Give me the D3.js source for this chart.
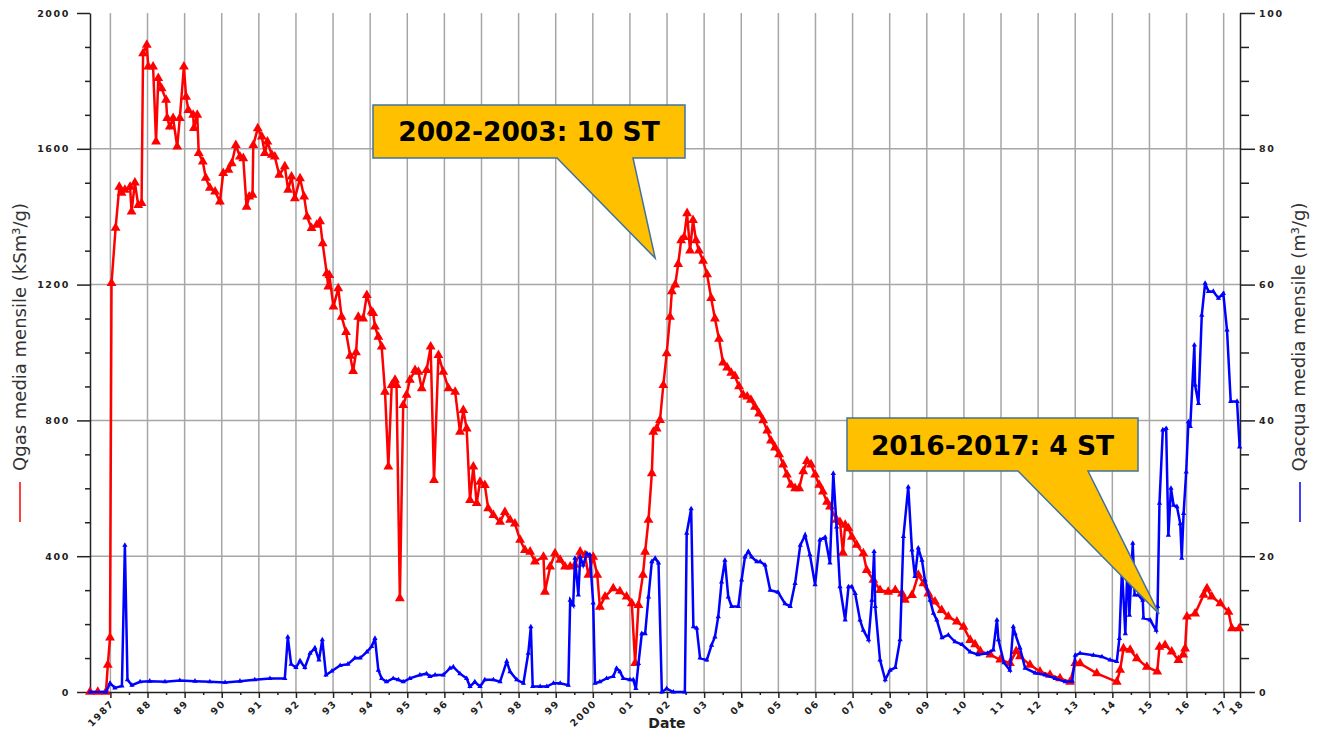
<!DOCTYPE html>
<html>
<head>
<meta charset="utf-8">
<script src="https://cdn.jsdelivr.net/npm/d3@7"></script>
<style>
body {margin: 0; background: #fff;}
.axis text {font-family: "DejaVu Sans", sans-serif; font-weight: bold; font-size: 9.5px; letter-spacing: 1.6px; fill: #222;}
.axis path, .axis line {stroke: #222; stroke-width: 1.5;}
.grid line {stroke: #a6a6a6; stroke-width: 1.5;}
.title {font-family: "DejaVu Sans", sans-serif; font-size: 18px; fill: #333;}
.callout text {font-family: "DejaVu Sans", sans-serif; font-weight: bold; font-size: 26.5px; fill: #000;}
</style>
</head>
<body>
<svg id="chart"></svg>
<script>
//data: [decimal year, value]
var qgas = [
[1986.45,0],[1986.66,0],[1986.88,0],[1986.93,80],[1986.99,160],[1987.03,1204],[1987.14,1367],[1987.24,1488],[1987.30,1470],[1987.39,1479],[1987.53,1488],[1987.57,1415],[1987.66,1500],[1987.75,1434],[1987.84,1440],[1987.88,1881],[1987.98,1906],[1988.02,1842],[1988.15,1842],[1988.23,1621],[1988.29,1808],[1988.38,1778],[1988.50,1744],[1988.53,1690],[1988.60,1665],[1988.69,1690],[1988.80,1606],[1988.87,1690],[1988.98,1842],[1989.04,1753],[1989.10,1714],[1989.23,1700],[1989.25,1661],[1989.34,1700],[1989.38,1587],[1989.49,1562],[1989.57,1514],[1989.68,1485],[1989.82,1474],[1989.95,1444],
[1990.04,1528],[1990.18,1538],[1990.27,1557],[1990.38,1611],[1990.49,1577],[1990.58,1572],[1990.67,1429],[1990.74,1459],[1990.83,1464],[1990.85,1611],[1990.97,1660],[1991.08,1636],[1991.16,1587],[1991.23,1621],[1991.35,1582],[1991.43,1577],[1991.55,1523],[1991.70,1548],[1991.79,1479],[1991.88,1518],[1991.97,1454],[1992.11,1513],[1992.22,1459],[1992.30,1400],[1992.42,1366],[1992.56,1376],[1992.65,1386],[1992.72,1321],[1992.83,1233],[1992.87,1194],[1992.90,1228],[1993.01,1135],[1993.14,1189],[1993.23,1105],[1993.35,1060],[1993.46,990],[1993.54,945],[1993.62,1000],[1993.68,1105],[1993.81,1100],[1993.91,1169],
[1994.04,1120],[1994.08,1116],[1994.13,1076],[1994.22,1046],[1994.31,1017],[1994.40,884],[1994.49,664],[1994.58,904],[1994.67,919],[1994.71,904],[1994.80,276],[1994.89,845],[1994.98,875],[1995.07,919],[1995.21,948],[1995.30,943],[1995.39,894],[1995.52,948],[1995.63,1017],[1995.72,624],[1995.84,992],[1995.97,943],[1996.11,894],[1996.29,884],[1996.42,766],[1996.51,830],[1996.60,776],[1996.69,565],[1996.78,664],[1996.87,556],[1996.96,619],[1997.09,609],[1997.18,541],[1997.32,521],[1997.50,501],[1997.63,530],[1997.77,507],[1997.90,496],
[1998.04,448],[1998.17,418],[1998.31,413],[1998.44,384],[1998.67,398],[1998.71,295],[1998.85,369],[1998.98,408],[1999.12,389],[1999.25,369],[1999.39,369],[1999.52,374],[1999.66,413],[1999.79,403],[1999.88,345],[2000.01,398],[2000.12,345],[2000.19,251],[2000.33,281],[2000.55,305],[2000.73,296],[2000.91,281],[2001.05,261],[2001.14,85],[2001.23,256],[2001.35,345],[2001.41,413],[2001.50,507],[2001.59,644],[2001.63,766],[2001.72,776],[2001.81,801],[2001.90,904],[2001.99,997],[2002.08,1105],
[2002.13,1180],[2002.22,1200],[2002.30,1260],[2002.38,1330],[2002.46,1340],[2002.54,1410],[2002.62,1300],[2002.70,1390],[2002.78,1330],[2002.86,1300],[2002.97,1270],[2003.08,1230],[2003.19,1160],[2003.29,1100],[2003.40,1040],[2003.51,970],[2003.62,955],[2003.73,940],[2003.83,930],[2003.94,900],[2004.05,875],[2004.16,870],[2004.26,860],[2004.37,840],[2004.48,820],[2004.59,800],[2004.70,770],[2004.80,740],[2004.91,720],[2005.02,700],[2005.13,670],[2005.23,640],[2005.34,610],[2005.45,600],[2005.56,600],[2005.67,650],[2005.77,680],[2005.88,670],[2005.99,640],
[2006.10,610],[2006.20,590],[2006.31,560],[2006.39,546],[2006.57,507],[2006.66,500],[2006.74,410],[2006.80,492],[2006.89,482],[2006.98,457],[2007.11,433],[2007.29,408],[2007.38,359],[2007.56,330],[2007.74,300],[2007.96,295],[2008.15,300],[2008.33,290],[2008.41,271],[2008.60,285],[2008.77,345],[2008.91,320],[2009.04,290],[2009.22,266],[2009.40,241],[2009.58,222],[2009.81,207],[2009.99,192],[2010.17,153],[2010.30,140],[2010.44,120],[2010.71,110],[2010.98,95],[2011.24,85],[2011.41,120],[2011.51,105],[2011.78,80],[2012.05,60],[2012.32,50],[2012.59,40],[2012.86,30],
[2013.00,85],[2013.13,84],[2013.58,55],[2014.12,30],[2014.21,65],[2014.30,128],[2014.48,124],[2014.66,99],[2014.93,74],[2015.21,60],[2015.27,133],[2015.42,138],[2015.60,119],[2015.78,94],[2015.91,110],[2015.96,128],[2016.01,222],[2016.23,231],[2016.46,286],[2016.55,305],[2016.68,281],[2016.91,261],[2017.13,236],[2017.22,187],[2017.42,187]
];

var qacqua = [
[1986.45,0],[1986.88,0],[1986.99,1.3],[1987.12,0.6],[1987.31,0.9],[1987.39,21.6],[1987.46,1.8],[1987.58,1.0],[1987.80,1.5],[1988.06,1.6],[1988.47,1.5],[1988.87,1.7],[1989.28,1.6],[1989.68,1.5],[1990.09,1.4],[1990.49,1.6],[1990.89,1.8],[1991.30,2.0],[1991.70,2.0],[1991.78,8.1],[1991.87,4.1],[1992.00,3.6],[1992.11,4.6],[1992.24,3.6],[1992.38,5.7],[1992.51,6.5],[1992.62,4.7],[1992.71,7.7],[1992.81,2.5],[1992.97,3.1],[1993.19,3.9],[1993.40,4.1],[1993.59,5.0],[1993.73,5.0],[1993.91,5.9],
[1994.04,6.7],[1994.13,7.9],[1994.22,3.2],[1994.31,2.0],[1994.44,1.5],[1994.62,2.0],[1994.76,1.8],[1994.89,1.5],[1995.07,2.0],[1995.34,2.5],[1995.52,2.7],[1995.61,2.3],[1995.75,2.5],[1995.97,2.5],[1996.15,3.5],[1996.24,3.7],[1996.42,2.7],[1996.60,2.0],[1996.69,0.8],[1996.82,1.5],[1996.96,0.8],[1997.09,1.8],[1997.32,1.8],[1997.50,1.5],[1997.68,4.5],[1997.77,3.0],[1997.95,1.8],[1998.13,1.3],[1998.26,5.7],[1998.33,9.6],[1998.38,0.8],[1998.58,0.8],[1998.76,0.8],[1998.94,1.3],
[1999.12,1.3],[1999.34,1.0],[1999.39,13.5],[1999.47,12.8],[1999.52,19.7],[1999.61,14.3],[1999.66,19.9],[1999.74,18.7],[1999.84,20.4],[1999.92,20.2],[2000.01,13.1],[2000.06,1.3],[2000.19,1.5],[2000.37,2.0],[2000.55,2.3],[2000.64,3.5],[2000.73,3.0],[2000.82,2.0],[2001.00,1.8],[2001.09,1.8],[2001.16,0.5],[2001.23,4.2],[2001.32,8.6],[2001.41,8.6],[2001.50,14.0],[2001.59,19.2],[2001.68,19.7],[2001.77,19.0],[2001.86,0],[2001.99,0.5],[2002.17,0],[2002.48,0],
[2002.53,23.4],[2002.65,27.0],[2002.71,9.6],[2002.80,9.4],[2002.89,5.0],[2003.07,4.7],[2003.20,6.9],[2003.29,8.1],[2003.38,11.1],[2003.47,16.2],[2003.56,19.4],[2003.65,14.0],[2003.74,12.6],[2003.92,12.6],[2004.01,16.5],[2004.10,19.9],[2004.19,20.7],[2004.28,19.9],[2004.42,19.2],[2004.51,19.2],[2004.64,18.7],[2004.78,15.0],[2004.99,14.7],[2005.18,13.0],[2005.32,12.6],[2005.45,16.0],[2005.59,21.6],[2005.72,23.1],[2005.85,20.2],[2005.99,15.8],
[2006.12,22.4],[2006.26,22.8],[2006.39,19.0],[2006.48,32.2],[2006.57,24.3],[2006.66,15.5],[2006.80,10.6],[2006.89,15.5],[2006.98,15.5],[2007.07,14.5],[2007.20,10.6],[2007.29,9.1],[2007.43,7.7],[2007.52,13.5],[2007.58,20.7],[2007.61,12.6],[2007.74,4.7],[2007.88,1.8],[2008.01,3.2],[2008.15,3.6],[2008.28,7.7],[2008.37,22.9],[2008.50,30.2],[2008.60,20.9],[2008.68,17.0],[2008.77,21.2],[2008.87,19.4],[2008.95,16.5],[2009.09,13.5],[2009.18,11.6],[2009.27,10.6],[2009.41,8.0],[2009.58,8.4],[2009.76,7.4],[2009.95,7.0],
[2010.17,5.9],[2010.38,5.5],[2010.63,5.7],[2010.79,6.2],[2010.89,10.6],[2010.93,7.7],[2011.08,4.3],[2011.24,3.2],[2011.33,9.6],[2011.38,8.6],[2011.51,6.5],[2011.65,3.5],[2011.92,2.8],[2012.19,2.5],[2012.46,2.0],[2012.73,1.5],[2012.92,1.6],[2013.00,5.4],[2013.13,5.7],[2013.49,5.4],[2013.72,5.2],[2013.94,4.7],[2014.12,4.5],[2014.19,7.9],[2014.26,18.2],[2014.35,8.6],[2014.41,19.4],[2014.46,11.3],[2014.55,21.9],[2014.60,14.3],[2014.70,14.3],[2014.82,13.5],[2014.84,10.9],
[2015.02,10.6],[2015.18,9.1],[2015.22,12.6],[2015.27,27.8],[2015.36,38.6],[2015.45,38.8],[2015.51,23.1],[2015.58,30.0],[2015.65,27.5],[2015.74,27.3],[2015.83,24.8],[2015.87,19.7],[2015.92,26.3],[2015.99,32.4],[2016.05,39.8],[2016.10,39.1],[2016.21,51.1],[2016.23,45.2],[2016.32,42.5],[2016.41,55.5],[2016.50,60.2],[2016.59,59.0],[2016.72,59.0],[2016.86,58.0],[2016.99,58.7],[2017.09,53.3],[2017.19,42.8],[2017.36,42.8],[2017.43,36.1]
];

//axes: ticks and labels
var xDomain = [1986.45, 2017.44];
var tickYears = [1987,1988,1989,1990,1991,1992,1993,1994,1995,1996,1997,1998,1999,2000,2001,2002,2003,2004,2005,2006,2007,2008,2009,2010,2011,2012,2013,2014,2015,2016,2017,2017.44];
var xTickLabels = ['1987','88','89','90','91','92','93','94','95','96','97','98','99','2000','01','02','03','04','05','06','07','08','09','10','11','12','13','14','15','16','17','18'];
var leftTicks = [0,400,800,1200,1600,2000];
var rightTicks = [0,20,40,60,80,100];

//annotations: label and where the arrow points (year, Qgas)
var calloutLabels = ['2002-2003: 10 ST', '2016-2017: 4 ST'];
var calloutTips = [[2001.68,1278],[2015.26,230]];

var width = 1325, height = 733;
var plot = {l: 90, r: 1240, t: 13, b: 692};

var svg = d3.select('#chart')
    .attr('width', width)
    .attr('height', height);

var scaleX = d3.scaleLinear().domain(xDomain).range([plot.l, plot.r]);
var scaleYL = d3.scaleLinear().domain([0,2000]).range([plot.b, plot.t]);
var scaleYR = d3.scaleLinear().domain([0,100]).range([plot.b, plot.t]);
var plain = d3.format('d');

//gridlines
var grid = svg.append('g').attr('class','grid');
grid.selectAll('.vgrid')
    .data(tickYears.slice(0, -1))
    .enter().append('line')
    .attr('x1', function(d){return scaleX(d)})
    .attr('x2', function(d){return scaleX(d)})
    .attr('y1', plot.t).attr('y2', plot.b);
grid.selectAll('.hgrid')
    .data(leftTicks.slice(1, -1))
    .enter().append('line')
    .attr('x1', plot.l).attr('x2', plot.r)
    .attr('y1', function(d){return scaleYL(d)})
    .attr('y2', function(d){return scaleYL(d)});

//left axis, major + minor
svg.append('g').attr('class','axis axis-y').attr('transform','translate(' + plot.l + ',0)')
    .call(d3.axisLeft(scaleYL).tickValues(leftTicks).tickFormat(plain).tickSize(13).tickSizeOuter(0).tickPadding(7));
svg.append('g').attr('class','axis minor').attr('transform','translate(' + plot.l + ',0)')
    .call(d3.axisLeft(scaleYL).tickValues(d3.range(0,2001,100).filter(function(v){return v % 400})).tickSize(5).tickFormat(''))
    .select('.domain').remove();

//right axis
svg.append('g').attr('class','axis axis-y2').attr('transform','translate(' + plot.r + ',0)')
    .call(d3.axisRight(scaleYR).tickValues(rightTicks).tickFormat(plain).tickSize(15).tickSizeOuter(0).tickPadding(4));
svg.append('g').attr('class','axis minor').attr('transform','translate(' + plot.r + ',0)')
    .call(d3.axisRight(scaleYR).tickValues(d3.range(0,101,5).filter(function(v){return v % 20})).tickSize(9).tickFormat(''))
    .select('.domain').remove();

//bottom axis, rotated labels
svg.append('g').attr('class','axis axis-x').attr('transform','translate(0,' + plot.b + ')')
    .call(d3.axisBottom(scaleX).tickValues(tickYears).tickSize(6).tickSizeOuter(0)
        .tickFormat(function(d, i){return xTickLabels[i]}));
svg.append('g').attr('class','axis minor').attr('transform','translate(0,' + plot.b + ')')
    .call(d3.axisBottom(scaleX).tickValues(tickYears.slice(0, -2).map(function(v){return v + 0.5})).tickSize(3).tickFormat(''))
    .select('.domain').remove();
svg.select('.axis-x').selectAll('text')
    .attr('x', 0).attr('y', 0).attr('dy', 0)
    .attr('text-anchor', 'end')
    .attr('transform', 'translate(4,12) rotate(-45)');

svg.append('text')
    .attr('x', 667).attr('y', 728)
    .attr('text-anchor', 'middle')
    .style('font-family', '"DejaVu Sans", sans-serif')
    .style('font-weight', 'bold').style('font-size', '14px').style('fill', '#222')
    .text('Date');

//axis titles with legend line
svg.append('text').attr('class','title')
    .attr('transform', 'translate(26,337) rotate(-90)')
    .attr('text-anchor', 'middle')
    .text('Qgas media mensile (kSm\u00B3/g)');
svg.append('line').attr('x1', 20).attr('x2', 20).attr('y1', 482).attr('y2', 522)
    .attr('stroke', '#ff0000').attr('stroke-width', 1.5);
svg.append('text').attr('class','title')
    .attr('transform', 'translate(1305,337) rotate(-90)')
    .attr('text-anchor', 'middle')
    .text('Qacqua media mensile (m\u00B3/g)');
svg.append('line').attr('x1', 1300).attr('x2', 1300).attr('y1', 482).attr('y2', 522)
    .attr('stroke', '#0000ff').attr('stroke-width', 1.5);

//series
var lineGas = d3.line()
    .x(function(d){return scaleX(d[0])})
    .y(function(d){return scaleYL(d[1])});
var lineWater = d3.line()
    .x(function(d){return scaleX(d[0])})
    .y(function(d){return scaleYR(d[1])});

svg.append('path').datum(qgas)
    .attr('d', lineGas)
    .attr('fill', 'none').attr('stroke', '#ff0000').attr('stroke-width', 2.5);
svg.append('g').selectAll('path')
    .data(qgas).enter().append('path')
    .attr('d', d3.symbol().type(d3.symbolTriangle).size(42))
    .attr('transform', function(d){return 'translate(' + scaleX(d[0]) + ',' + scaleYL(d[1]) + ')'})
    .attr('fill', '#ff0000');

svg.append('path').datum(qacqua)
    .attr('d', lineWater)
    .attr('fill', 'none').attr('stroke', '#0000ff').attr('stroke-width', 2.5);
svg.append('g').selectAll('path')
    .data(qacqua).enter().append('path')
    .attr('d', d3.symbol().type(d3.symbolTriangle).size(12))
    .attr('transform', function(d){return 'translate(' + scaleX(d[0]) + ',' + scaleYR(d[1]) + ')'})
    .attr('fill', '#0000ff');

//callouts (box layout in pixels, tip on data)
var boxes = [
    {x0: 373, y0: 105, x1: 685, y1: 158, t0: 557, t1: 633, ty: 141},
    {x0: 847, y0: 418, x1: 1138, y1: 471, t0: 1018, t1: 1088, ty: 455}
];
boxes.forEach(function(b, i){
    var tx = scaleX(calloutTips[i][0]), ty = scaleYL(calloutTips[i][1]);
    var g = svg.append('g').attr('class','callout');
    g.append('path')
        .attr('d', 'M' + b.x0 + ',' + b.y0 + 'H' + b.x1 + 'V' + b.y1 + 'H' + b.t1 +
            'L' + tx + ',' + ty + 'L' + b.t0 + ',' + b.y1 + 'H' + b.x0 + 'Z')
        .attr('fill', '#ffc000').attr('stroke', '#41719c').attr('stroke-width', 1.5);
    g.append('text')
        .attr('x', (b.x0 + b.x1) / 2).attr('y', b.ty)
        .attr('text-anchor', 'middle')
        .text(calloutLabels[i]);
});
</script>
</body>
</html>
